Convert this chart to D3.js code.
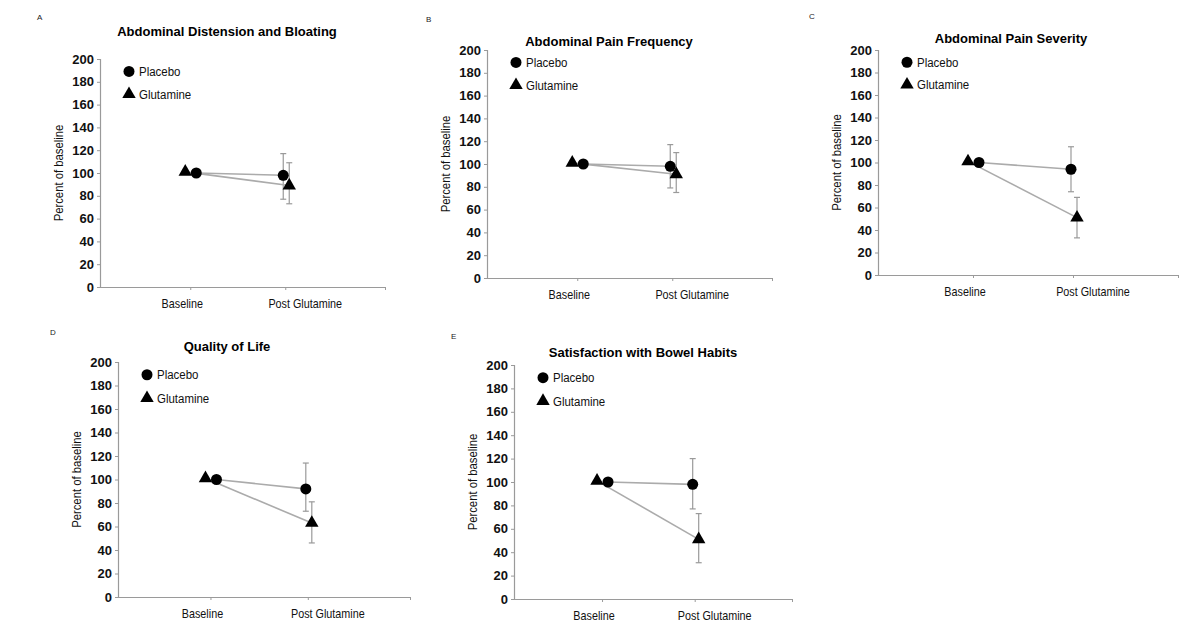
<!DOCTYPE html>
<html><head><meta charset="utf-8">
<script src="https://cdn.jsdelivr.net/npm/d3@7"></script>
<style>
body{margin:0;background:#fff;}
svg{display:block;font-family:"Liberation Sans",Arial,sans-serif;}
</style></head>
<body><svg id="c" width="1200" height="632"></svg>
<script>
// ---- data ----
const panelLetters = ["A","B","C","D","E"];
const panelTitles = ["Abdominal Distension and Bloating","Abdominal Pain Frequency","Abdominal Pain Severity","Quality of Life","Satisfaction with Bowel Habits"];
const categories = ["Baseline","Post Glutamine"];
const yTickValues = [0,20,40,60,80,100,120,140,160,180,200];
const seriesNames = ["Placebo","Glutamine"];
const placeboMean = [[100,98],[100,98],[100,94],[100,92],[100,98]];
const placeboLow  = [[null,77],[null,79],[null,74],[null,73],[null,77]];
const placeboHigh = [[null,117],[null,117],[null,114],[null,114],[null,120]];
const glutMean = [[101,89],[101,91],[101,51],[101,63],[101,51]];
const glutLow  = [[null,73],[null,75],[null,33],[null,46],[null,31]];
const glutHigh = [[null,109],[null,110],[null,69],[null,81],[null,73]];

// ---- layout (pixel frames of each panel) ----
const frames = [
  {left:100, right:385, top:59, bottom:287, letter:[37,20], titleX:227, titleY:36},
  {left:487, right:772, top:50, bottom:278, letter:[426,22], titleX:609, titleY:46},
  {left:878, right:1178, top:50, bottom:275, letter:[809,19], titleX:1011, titleY:43},
  {left:118, right:410, top:362, bottom:597, letter:[50,335], titleX:227, titleY:351},
  {left:514, right:792, top:365, bottom:599, letter:[451,339], titleX:643, titleY:357}
];
const offsets = {Placebo:[6,-2], Glutamine:[-5,4]};
const labelShift = [-8, 20];
const lineColor = "#ababab", errColor = "#9a9a9a", axisColor = "#9a9a9a";

const svg = d3.select("#c");

frames.forEach((f,i)=>{
  const g = svg.append("g");
  const x = d3.scaleLinear().domain([0.05,3.05]).range([f.left,f.right]);
  const y = d3.scaleLinear().domain([0,200]).range([f.bottom,f.top]);

  g.append("text").attr("x",f.letter[0]).attr("y",f.letter[1]).attr("font-size",8)
    .attr("fill","#222").text(panelLetters[i]);
  g.append("text").attr("x",f.titleX).attr("y",f.titleY)
    .attr("text-anchor","middle").attr("font-size",13).attr("font-weight","bold").text(panelTitles[i]);

  const ya = g.append("g").attr("transform",`translate(${f.left},0)`)
    .call(d3.axisLeft(y).tickValues(yTickValues).tickSize(3).tickPadding(3));
  ya.select(".domain").attr("stroke",axisColor).attr("stroke-width",1.2);
  ya.selectAll(".tick line").attr("stroke",axisColor);
  ya.selectAll(".tick text").attr("font-size",13).attr("font-weight","bold")
    .attr("font-family","Liberation Sans, Arial, sans-serif").attr("fill","#111");

  const xa = g.append("g").attr("transform",`translate(0,${f.bottom})`)
    .call(d3.axisBottom(x).tickValues([1,2,3.05]).tickSize(3).tickSizeOuter(0).tickFormat(()=>""));
  xa.select(".domain").attr("stroke",axisColor).attr("stroke-width",1.2);
  xa.selectAll(".tick line").attr("stroke",axisColor);
  categories.forEach((c,k)=>{
    const cx = x(k+1)+labelShift[k];
    g.append("text").attr("text-anchor","middle").attr("font-size",13).attr("fill","#111")
      .attr("transform",`translate(${cx},${f.bottom+21}) scale(0.83,1)`).text(c);
  });

  const yc = (f.top+f.bottom)/2;
  g.append("text").attr("text-anchor","middle").attr("font-size",13).attr("fill","#111")
    .attr("transform",`translate(${f.left-37},${yc}) rotate(-90) scale(0.87,1)`).text("Percent of baseline");

  const series = [
    {name:"Placebo", mean:placeboMean[i], lo:placeboLow[i], hi:placeboHigh[i], sym:d3.symbolCircle, size:95},
    {name:"Glutamine", mean:glutMean[i], lo:glutLow[i], hi:glutHigh[i], sym:d3.symbolTriangle, size:78}
  ];
  series.forEach(s=>{
    const pts = s.mean.map((v,k)=>({x:x(k+1)+offsets[s.name][k], y:y(v), lo:s.lo[k], hi:s.hi[k]}));
    g.append("path").attr("d",d3.line().x(d=>d.x).y(d=>d.y)(pts))
      .attr("fill","none").attr("stroke",lineColor).attr("stroke-width",1.6);
    pts.filter(d=>d.lo!=null).forEach(d=>{
      g.append("line").attr("x1",d.x).attr("x2",d.x).attr("y1",y(d.lo)).attr("y2",y(d.hi)).attr("stroke",errColor).attr("stroke-width",1.2);
      [d.lo,d.hi].forEach(v=>g.append("line").attr("x1",d.x-3).attr("x2",d.x+3).attr("y1",y(v)).attr("y2",y(v)).attr("stroke",errColor).attr("stroke-width",1.2));
    });
  });
  series.slice().reverse().forEach(s=>{
    s.mean.forEach((v,k)=>{
      const cx = x(k+1)+offsets[s.name][k];
      g.append("path").attr("d",d3.symbol().type(s.sym).size(s.size)())
        .attr("transform",`translate(${cx},${y(v)})`).attr("fill","#000");
    });
  });

  const lx = f.left+29;
  const ly0 = y(190)+1, ly1 = y(170)+1;
  [[ly0,d3.symbolCircle,95,seriesNames[0]],[ly1,d3.symbolTriangle,78,seriesNames[1]]].forEach(([ly,sym,sz,name])=>{
    g.append("path").attr("d",d3.symbol().type(sym).size(sz)()).attr("transform",`translate(${lx},${ly})`).attr("fill","#000");
    g.append("text").attr("font-size",13.5).attr("fill","#111")
      .attr("transform",`translate(${lx+10},${ly+4.5}) scale(0.85,1)`).text(name);
  });
});
</script></body></html>
